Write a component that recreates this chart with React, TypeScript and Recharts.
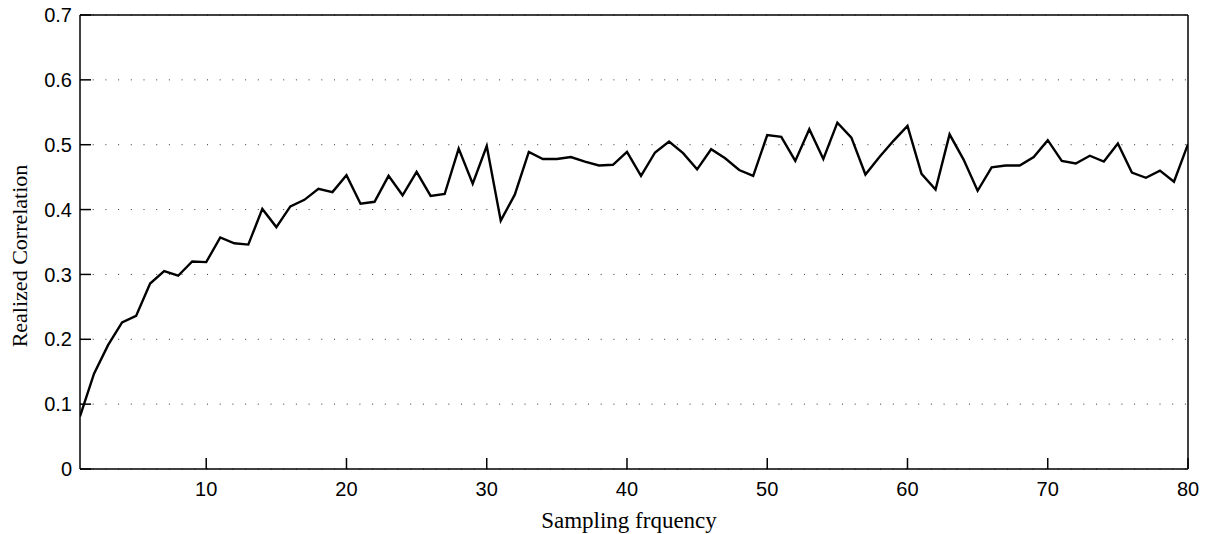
import React from "react";
import { LineChart, Line, XAxis, YAxis, CartesianGrid, Label } from "recharts";

// realized correlation per sampling frequency (1..80)
const correlation = [
  0.081, 0.147, 0.191, 0.226, 0.236, 0.286, 0.305, 0.298, 0.32, 0.319,
  0.357, 0.348, 0.346, 0.401, 0.373, 0.405, 0.415, 0.432, 0.427, 0.453,
  0.409, 0.412, 0.452, 0.422, 0.458, 0.421, 0.424, 0.494, 0.44, 0.498,
  0.383, 0.423, 0.489, 0.478, 0.478, 0.481, 0.474, 0.468, 0.469, 0.489,
  0.452, 0.488, 0.505, 0.487, 0.462, 0.493, 0.479, 0.461, 0.452, 0.515,
  0.512, 0.475, 0.524, 0.478, 0.534, 0.511, 0.454, 0.481, 0.506, 0.529,
  0.455, 0.431, 0.516, 0.477, 0.429, 0.465, 0.468, 0.468, 0.481, 0.507,
  0.475, 0.471, 0.483, 0.474, 0.502, 0.457, 0.449, 0.46, 0.443, 0.501,
];

const xTicks = [10, 20, 30, 40, 50, 60, 70, 80];
const yTicks = [0, 0.1, 0.2, 0.3, 0.4, 0.5, 0.6, 0.7];

const data = correlation.map((v, i) => ({ freq: i + 1, corr: v }));

const sans = "'Liberation Sans', Arial, sans-serif";
const serif = "'Liberation Serif', 'Times New Roman', serif";
const tickFont = { fill: "#000", fontSize: 20, fontFamily: sans };

// axis titles drawn relative to the plot viewBox
const XTitle = (props: any) => {
  const { viewBox } = props;
  const cx = viewBox.x + viewBox.width / 2 - 5;
  const y = viewBox.y + viewBox.height + 58;
  return (
    <text x={cx} y={y} textAnchor="middle" fontFamily={serif} fontSize={23} fill="#000">
      Sampling frquency
    </text>
  );
};

const YTitle = (props: any) => {
  const { viewBox } = props;
  const x = viewBox.x - 52;
  const cy = viewBox.y + viewBox.height / 2 + 14;
  return (
    <text
      x={x}
      y={cy}
      transform={`rotate(-90 ${x} ${cy})`}
      textAnchor="middle"
      fontFamily={serif}
      fontSize={22}
      fill="#000"
    >
      Realized Correlation
    </text>
  );
};

export default function App() {
  return (
    <div style={{ position: "absolute", left: 0, top: 0, background: "#fff" }}>
      <LineChart
        width={1206}
        height={534}
        data={data}
        margin={{ top: 14, right: 17, bottom: 64, left: 79 }}
      >
        <CartesianGrid
          horizontal
          vertical={false}
          stroke="#333"
          strokeDasharray="1 11.7"
        />
        <XAxis
          type="number"
          dataKey="freq"
          domain={[1, 80]}
          ticks={xTicks}
          interval={0}
          height={1}
          tickSize={-11}
          tickMargin={24}
          tick={tickFont}
          stroke="#000"
          strokeWidth={1.5}
          allowDataOverflow
        >
          <Label content={XTitle} />
        </XAxis>
        <XAxis
          xAxisId="t"
          orientation="top"
          type="number"
          dataKey="freq"
          domain={[1, 80]}
          ticks={xTicks}
          interval={0}
          height={1}
          tickSize={-11}
          tick={false}
          stroke="#000"
          strokeWidth={1.5}
        />
        <YAxis
          type="number"
          domain={[0, 0.7]}
          ticks={yTicks}
          interval={0}
          width={1}
          tickSize={-11}
          tickMargin={19}
          tick={tickFont}
          stroke="#000"
          strokeWidth={1.5}
        >
          <Label content={YTitle} />
        </YAxis>
        <YAxis
          yAxisId="r"
          orientation="right"
          type="number"
          domain={[0, 0.7]}
          ticks={yTicks}
          interval={0}
          width={1}
          tickSize={-11}
          tick={false}
          stroke="#000"
          strokeWidth={1.5}
        />
        <Line
          type="linear"
          dataKey="corr"
          stroke="#000"
          strokeWidth={2.4}
          dot={false}
          activeDot={false}
          isAnimationActive={false}
        />
      </LineChart>
    </div>
  );
}
